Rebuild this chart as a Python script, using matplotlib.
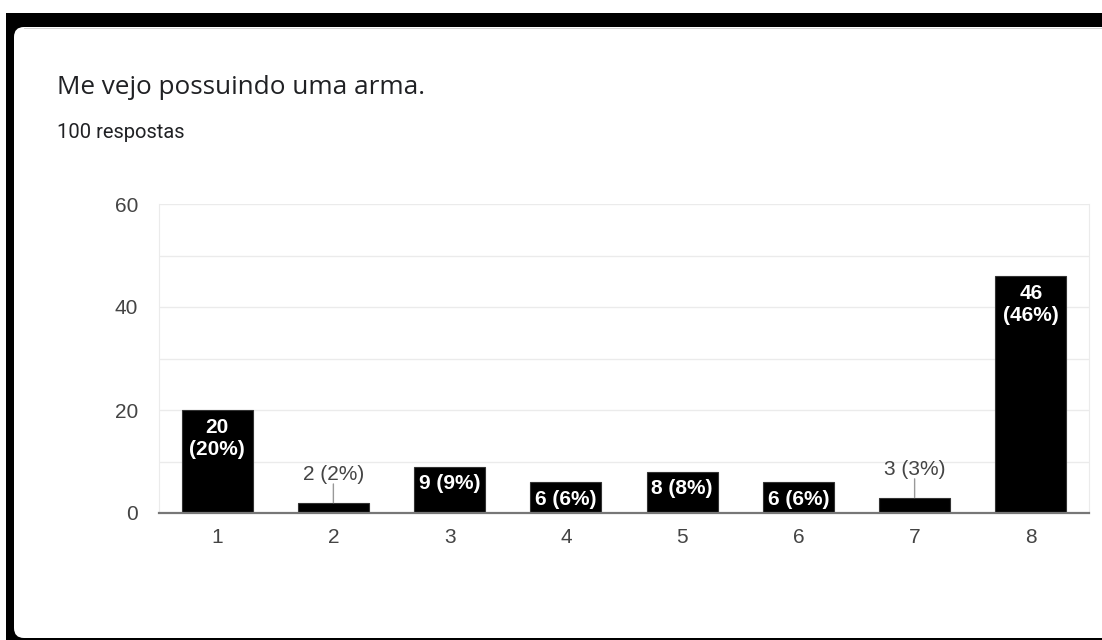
import matplotlib.pyplot as plt
import numpy as np
from matplotlib.patches import Rectangle, FancyBboxPatch

# respostas por opção (escala 1-8)
categories = ['1', '2', '3', '4', '5', '6', '7', '8']
values = [20, 2, 9, 6, 8, 6, 3, 46]
total = 100
title = 'Me vejo possuindo uma arma.'
subtitle = '100 respostas'
y_ticks = [0, 20, 40, 60]

W, H = 1102, 640
fig = plt.figure(figsize=(W / 100, H / 100), dpi=100)
fig.patch.set_facecolor('white')

# moldura preta e cartão branco com canto arredondado
fig.patches.append(Rectangle((6, 0), W - 6, H - 13, transform=None,
                             facecolor='black', edgecolor='none', zorder=-5))
fig.patches.append(FancyBboxPatch((14, 2), W + 20, H - 29, transform=None,
                                  boxstyle='round,pad=0,rounding_size=10',
                                  facecolor='white', edgecolor='none', zorder=-4))
fig.patches.append(Rectangle((24, H - 29), W, 1.5, transform=None,
                             facecolor='#d5d5d5', edgecolor='none', zorder=-3))

fig.text(57 / W, 1 - 87 / H, title, fontsize=18.8, family='Open Sans',
         color='#202124', va='center', ha='left')
fig.text(57 / W, 1 - 133 / H, subtitle, fontsize=14.5, family='Roboto',
         color='#202124', va='center', ha='left')

ax = fig.add_axes([159 / W, 1 - 513 / H, 930 / W, 309 / H])
ax.set_facecolor('none')

x = np.arange(len(values))
ax.bar(x, values, width=0.61, color='black', edgecolor='#333333',
       linewidth=0.8, zorder=3)

ax.set_xlim(-0.5, len(values) - 0.5)
ax.set_ylim(0, 60)
ax.set_yticks(y_ticks)
ax.set_yticks([10, 30, 50], minor=True)
ax.set_xticks(x)
ax.set_xticklabels(categories)
ax.grid(axis='y', which='both', color='#ebebeb', linewidth=1, zorder=0)
ax.tick_params(axis='both', which='both', length=0, labelsize=15,
               labelcolor='#444444')
ax.tick_params(axis='y', pad=15)
ax.tick_params(axis='x', pad=10.5)
for lbl in ax.get_xticklabels() + ax.get_yticklabels():
    lbl.set_family('Liberation Sans')

ax.spines['top'].set_visible(False)
ax.spines['left'].set_color('#ebebeb')
ax.spines['right'].set_color('#ebebeb')
ax.spines['bottom'].set_color('#777777')
ax.spines['bottom'].set_linewidth(1.6)
ax.spines['bottom'].set_zorder(4)

# rótulos: dentro da barra quando cabe, senão acima com linha guia
for xi, v in zip(x, values):
    pct = round(v / total * 100)
    if v >= 5:
        text = f'{v}\n({pct}%)' if v >= 10 else f'{v} ({pct}%)'
        ax.annotate(text, xy=(xi, v), xytext=(0, -5.5), textcoords='offset points',
                    ha='center', va='top', color='white', fontsize=15,
                    fontweight='bold', family='Liberation Sans',
                    linespacing=1.25, zorder=5)
    else:
        ax.annotate('', xy=(xi, v), xytext=(0, 13.5), textcoords='offset points',
                    arrowprops=dict(arrowstyle='-', color='#999999', lw=1,
                                    shrinkA=0, shrinkB=0), zorder=5)
        ax.annotate(f'{v} ({pct}%)', xy=(xi, v), xytext=(0, 13.5),
                    textcoords='offset points', ha='center', va='bottom',
                    color='#444444', fontsize=15, family='Liberation Sans',
                    zorder=5)

fig.savefig('out.png', dpi=100, facecolor=fig.get_facecolor())
